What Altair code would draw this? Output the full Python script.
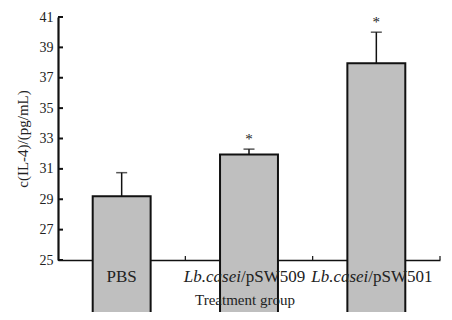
import altair as alt
import pandas as pd

categories = ["PBS", "Lb.casei/pSW509", "Lb.casei/pSW501"]
label_italic = ["", "Lb.casei", "Lb.casei"]
label_plain = ["PBS", "/pSW509", "/pSW501"]
means = [29.2, 31.95, 37.95]
errors = [1.55, 0.35, 2.05]
stars = ["", "*", "*"]
y_ticks = [25, 27, 29, 31, 33, 35, 37, 39, 41]
x_bounds = [1, 2, 3]
x_title = "Treatment group"
y_title = "c(IL-4)/(pg/mL)"

df = pd.DataFrame({
    "cat": categories,
    "ital": label_italic,
    "plain": label_plain,
    "mean": means,
    "upper": [m + e for m, e in zip(means, errors)],
    "star": stars,
})
ticks_df = pd.DataFrame({"t": y_ticks})
bounds_df = pd.DataFrame({"b": x_bounds})
title_df = pd.DataFrame({"title": [x_title]})

W, H = 382, 243
FONT = "Liberation Serif"
INK = "#222222"

yscale = alt.Scale(domain=[25, 41], nice=False, zero=False)
xscale = alt.Scale(paddingInner=0.545, paddingOuter=0.2725)

X = alt.X("cat:N", sort=categories, scale=xscale,
          axis=alt.Axis(labels=False, ticks=False, title=None))
Y = alt.Y("mean:Q", scale=yscale,
          axis=alt.Axis(values=y_ticks, tickCount=len(y_ticks) + 2,
                        title=y_title))

xs = alt.X("cat:N", sort=categories, scale=xscale)

def ys(field):
    return alt.Y(field, scale=yscale)

base = alt.Chart(df)

bars = base.mark_bar(fill="#bfbfbf", stroke="#111", strokeWidth=2).encode(x=X, y=Y)

err = base.mark_rule(color="#111", strokeWidth=1.5).encode(
    x=xs, y=ys("mean:Q"), y2="upper:Q")

caps = base.mark_tick(color="#111", thickness=1.5, size=11).encode(
    x=xs, y=ys("upper:Q"))

star_txt = base.mark_text(font=FONT, fontSize=15, dy=-10, fill=INK).encode(
    x=xs, y=ys("upper:Q"), text="star:N")

LFS = 17
lab_pbs = base.transform_filter("datum.ital == ''").mark_text(
    font=FONT, fontSize=LFS, dy=17, fill=INK, align="center", baseline="middle"
).encode(x=xs, y=alt.datum(25, scale=yscale), text="plain:N")

lab_it = base.transform_filter("datum.ital != ''").mark_text(
    font=FONT, fontSize=LFS, fontStyle="italic", dy=17, dx=-8, fill=INK,
    align="right", baseline="middle"
).encode(x=xs, y=alt.datum(25, scale=yscale), text="ital:N")

lab_pl = base.transform_filter("datum.ital != ''").mark_text(
    font=FONT, fontSize=LFS, dy=17, dx=-8, fill=INK,
    align="left", baseline="middle"
).encode(x=xs, y=alt.datum(25, scale=yscale), text="plain:N")

ytick_marks = alt.Chart(ticks_df).mark_rule(color="#111", strokeWidth=2).encode(
    y=ys("t:Q"), x=alt.value(0), x2=alt.value(5))

xtitle_mark = alt.Chart(title_df).mark_text(
    font=FONT, fontSize=15, fill=INK, align="center", baseline="middle", dy=40
).encode(x=alt.value(W / 2 - 4), y=alt.datum(25, scale=yscale), text="title:N")

main = alt.layer(bars, err, caps, star_txt, lab_pbs, lab_it, lab_pl,
                 ytick_marks, xtitle_mark)

xtick_marks = alt.Chart(bounds_df).mark_rule(color="#111", strokeWidth=1.2).encode(
    x=alt.X("b:Q", scale=alt.Scale(domain=[0, 3], nice=False), axis=None),
    y=alt.value(H), y2=alt.value(H - 4))

chart = alt.layer(main, xtick_marks).resolve_scale(x="independent").properties(
    width=W, height=H,
    background="white",
    autosize=alt.AutoSizeParams(type="none"),
    padding={"left": 50, "top": 9, "right": 4, "bottom": 52},
).configure_view(stroke=None).configure_axis(
    labelOverlap=False, grid=False, ticks=False,
    labelFont=FONT, labelFontSize=14, labelColor=INK, labelPadding=5,
    titleFont=FONT, titleFontSize=15, titleFontWeight="normal", titleColor=INK,
    domainColor="#111",
).configure_axisY(domainWidth=2.2, titlePadding=9).configure_axisX(
    domainWidth=1.5, labels=False
)

chart.save("out.html", embed_options={"renderer": "svg", "actions": False})
